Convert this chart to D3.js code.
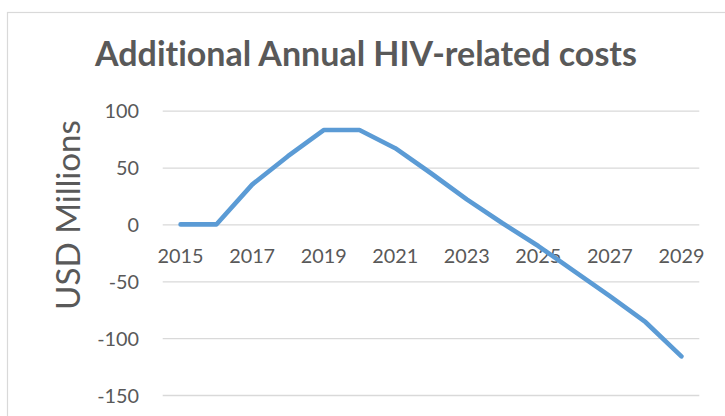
<!DOCTYPE html>
<html>
<head>
<meta charset="utf-8">
<script src="https://cdn.jsdelivr.net/npm/d3@7"></script>
<style>
  html, body { margin: 0; padding: 0; background: #fff; }
  svg { display: block; }
  text { font-family: Lato, "Open Sans", sans-serif; fill: #595959; font-variant-ligatures: none; font-feature-settings: "liga" 0, "clig" 0; }
</style>
</head>
<body>
<svg id="chart" width="725" height="416"></svg>
<script>
// ---- data ----
const years = [2015, 2016, 2017, 2018, 2019, 2020, 2021, 2022, 2023, 2024, 2025, 2026, 2027, 2028, 2029];
const costs = [0, 0, 35, 60, 83, 83, 67, 45, 22, 1, -19, -41, -63, -86, -116];
const yTicks = [100, 50, 0, -50, -100, -150];
const xTickLabels = [2015, 2017, 2019, 2021, 2023, 2025, 2027, 2029];
const titleText = "Additional Annual HIV-related costs";
const yTitleText = "USD Millions";

const svg = d3.select("#chart");
const W = 725, H = 416;

// chart area border
svg.append("rect")
  .attr("x", 7.5).attr("y", 12.5)
  .attr("width", W + 20).attr("height", H + 20)
  .attr("fill", "#fff").attr("stroke", "#d9d9d9").attr("stroke-width", 1.2);

const plot = { left: 162.7, right: 699.3, top: 110.7, bottom: 395 };

const x = d3.scaleBand().domain(years).range([plot.left, plot.right]).padding(0);
const y = d3.scaleLinear().domain([-150, 100]).range([plot.bottom, plot.top]);
const cx = d => x(d) + x.bandwidth() / 2;

function fitSize(text, targetWidth, weight) {
  const t = svg.append("text").attr("font-size", 100).attr("font-weight", weight).text(text);
  const w = t.node().getComputedTextLength();
  t.remove();
  return 100 * targetWidth / w;
}
const tickSize = fitSize("2015", 46, 400);

// gridlines
const grid = svg.append("g")
  .attr("transform", `translate(${plot.left},0)`)
  .call(d3.axisLeft(y).tickValues(yTicks).tickSize(-(plot.right - plot.left)).tickFormat(""));
grid.select(".domain").remove();
grid.selectAll(".tick line").attr("stroke", "#d9d9d9").attr("stroke-width", 1.3);

// y tick labels
const yAxis = svg.append("g")
  .attr("transform", `translate(139,0)`)
  .call(d3.axisLeft(y).tickValues(yTicks).tickSize(0).tickPadding(0).tickFormat(d => String(d)));
yAxis.select(".domain").remove();
yAxis.selectAll(".tick text")
  .attr("font-size", tickSize)
  .attr("fill", "#595959")
  .attr("font-family", "Lato, 'Open Sans', sans-serif")
  .attr("dy", "0.36em");

// x tick labels at y=0
const xAxis = svg.append("g")
  .attr("transform", `translate(0,${y(0)})`)
  .call(d3.axisBottom(x).tickValues(xTickLabels).tickSize(0).tickPadding(0).tickFormat(d => String(d)));
xAxis.select(".domain").remove();
xAxis.selectAll(".tick text")
  .attr("font-size", tickSize)
  .attr("fill", "#595959")
  .attr("font-family", "Lato, 'Open Sans', sans-serif")
  .attr("y", 38.5).attr("dy", 0);

// line
const line = d3.line().x((d, i) => cx(years[i])).y(d => y(d));
svg.append("path")
  .datum(costs)
  .attr("d", line)
  .attr("fill", "none")
  .attr("stroke", "#5b9bd5")
  .attr("stroke-width", 4.6)
  .attr("stroke-linecap", "round")
  .attr("stroke-linejoin", "round");

// title
svg.append("text")
  .attr("x", 366).attr("y", 66)
  .attr("text-anchor", "middle")
  .attr("font-weight", 700)
  .attr("font-size", fitSize(titleText, 542, 700))
  .text(titleText);

// y axis title
svg.append("text")
  .attr("transform", "translate(80,215) rotate(-90)")
  .attr("text-anchor", "middle")
  .attr("font-weight", 400)
  .attr("font-size", fitSize(yTitleText, 190, 400))
  .text(yTitleText);
</script>
</body>
</html>
